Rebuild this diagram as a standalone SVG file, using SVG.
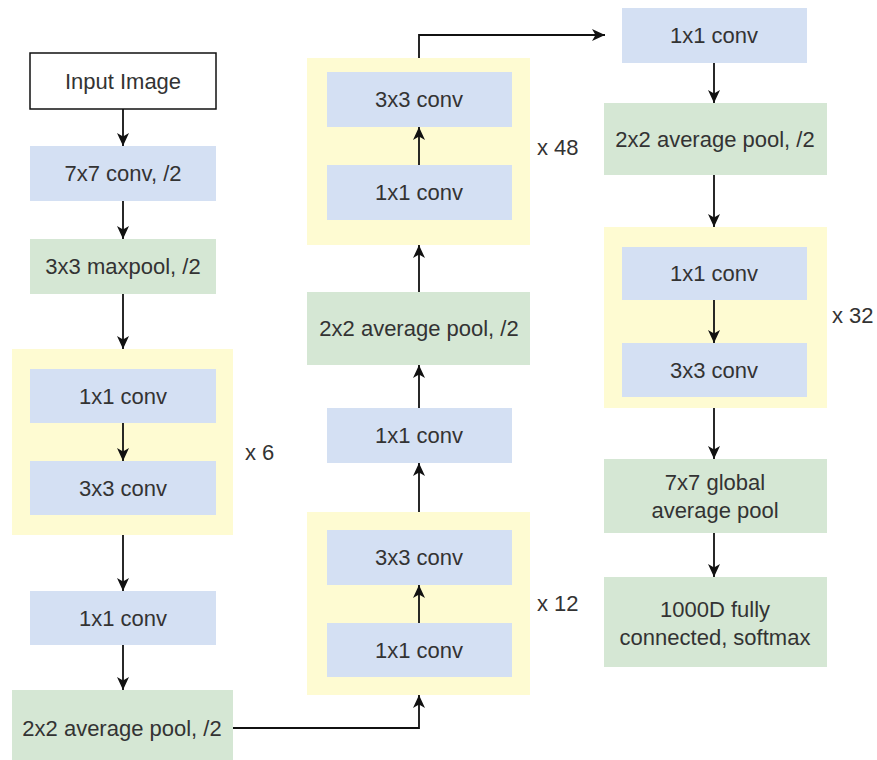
<svg xmlns="http://www.w3.org/2000/svg" width="877" height="760" viewBox="0 0 877 760">
  <defs>
    <marker id="arrow" viewBox="0 0 14 14" refX="13" refY="7" markerWidth="14" markerHeight="14" markerUnits="userSpaceOnUse" orient="auto">
      <path d="M0,1 L13,7 L0,13 L3.5,7 z" fill="#111"/>
    </marker>
  </defs>
  <style>
    .conv { fill: #d4e0f3; }
    .pool { fill: #d5e7d4; }
    .rep { fill: #fefbd2; }
    .inp { fill: #ffffff; stroke: #111; stroke-width: 1.5; }
    text { font-family: "Liberation Sans", Arial, sans-serif; font-size: 22px; fill: #333; text-anchor: middle; }
    .times { text-anchor: start; }
    .edge { fill: none; stroke: #111; stroke-width: 1.8; marker-end: url(#arrow); }
  </style>

  <!-- repeat containers (drawn first, behind their blocks) -->
  <g id="dense-block-6">
    <rect class="rep" x="12" y="349" width="221" height="186"/>
    <text class="times" x="245" y="460">x 6</text>
  </g>
  <g id="dense-block-48">
    <rect class="rep" x="307" y="58" width="223" height="187"/>
    <text class="times" x="537" y="155">x 48</text>
  </g>
  <g id="dense-block-12">
    <rect class="rep" x="307" y="512" width="223" height="183"/>
    <text class="times" x="537" y="611">x 12</text>
  </g>
  <g id="dense-block-32">
    <rect class="rep" x="604" y="227" width="223" height="181"/>
    <text class="times" x="832" y="323">x 32</text>
  </g>

  <!-- column 1 -->
  <g id="input-image">
    <rect class="inp" x="30" y="53" width="186" height="56"/>
    <text x="123" y="89">Input Image</text>
  </g>
  <g id="conv7x7">
    <rect class="conv" x="30" y="146" width="186" height="55"/>
    <text x="123" y="181">7x7 conv, /2</text>
  </g>
  <g id="maxpool">
    <rect class="pool" x="30" y="239" width="186" height="55"/>
    <text x="123" y="274">3x3 maxpool, /2</text>
  </g>
  <g id="b6-conv1x1">
    <rect class="conv" x="30" y="369" width="186" height="54"/>
    <text x="123" y="404">1x1 conv</text>
  </g>
  <g id="b6-conv3x3">
    <rect class="conv" x="30" y="461" width="186" height="54"/>
    <text x="123" y="496">3x3 conv</text>
  </g>
  <g id="t1-conv1x1">
    <rect class="conv" x="30" y="591" width="186" height="54"/>
    <text x="123" y="626">1x1 conv</text>
  </g>
  <g id="t1-avgpool">
    <rect class="pool" x="12" y="690" width="221" height="76"/>
    <text x="122" y="736">2x2 average pool, /2</text>
  </g>

  <!-- column 2 -->
  <g id="b12-conv1x1">
    <rect class="conv" x="327" y="623" width="185" height="54"/>
    <text x="419" y="658">1x1 conv</text>
  </g>
  <g id="b12-conv3x3">
    <rect class="conv" x="327" y="530" width="185" height="55"/>
    <text x="419" y="565">3x3 conv</text>
  </g>
  <g id="t2-conv1x1">
    <rect class="conv" x="327" y="408" width="185" height="55"/>
    <text x="419" y="443">1x1 conv</text>
  </g>
  <g id="t2-avgpool">
    <rect class="pool" x="307" y="292" width="223" height="73"/>
    <text x="419" y="336">2x2 average pool, /2</text>
  </g>
  <g id="b48-conv1x1">
    <rect class="conv" x="327" y="165" width="185" height="55"/>
    <text x="419" y="200">1x1 conv</text>
  </g>
  <g id="b48-conv3x3">
    <rect class="conv" x="327" y="72" width="185" height="55"/>
    <text x="419" y="107">3x3 conv</text>
  </g>

  <!-- column 3 -->
  <g id="t3-conv1x1">
    <rect class="conv" x="622" y="8" width="185" height="55"/>
    <text x="714" y="43">1x1 conv</text>
  </g>
  <g id="t3-avgpool">
    <rect class="pool" x="604" y="103" width="223" height="72"/>
    <text x="715" y="147">2x2 average pool, /2</text>
  </g>
  <g id="b32-conv1x1">
    <rect class="conv" x="622" y="247" width="185" height="53"/>
    <text x="714" y="281">1x1 conv</text>
  </g>
  <g id="b32-conv3x3">
    <rect class="conv" x="622" y="343" width="185" height="54"/>
    <text x="714" y="378">3x3 conv</text>
  </g>
  <g id="global-avgpool">
    <rect class="pool" x="604" y="459" width="223" height="74"/>
    <text x="715" y="490">7x7 global</text>
    <text x="715" y="518">average pool</text>
  </g>
  <g id="fc-softmax">
    <rect class="pool" x="604" y="577" width="223" height="90"/>
    <text x="715" y="617">1000D fully</text>
    <text x="715" y="645">connected, softmax</text>
  </g>

  <!-- connectors -->
  <g id="connectors">
    <path class="edge" d="M123,109 V146"/>
    <path class="edge" d="M123,201 V239"/>
    <path class="edge" d="M123,294 V349"/>
    <path class="edge" d="M123,423 V461"/>
    <path class="edge" d="M123,535 V591"/>
    <path class="edge" d="M123,645 V690"/>
    <path class="edge" d="M233,728 H419 V695"/>
    <path class="edge" d="M419,623 V585"/>
    <path class="edge" d="M419,512 V463"/>
    <path class="edge" d="M419,408 V365"/>
    <path class="edge" d="M419,292 V245"/>
    <path class="edge" d="M419,165 V127"/>
    <path class="edge" d="M419,58 V35 H605"/>
    <path class="edge" d="M714,63 V103"/>
    <path class="edge" d="M714,175 V227"/>
    <path class="edge" d="M714,300 V343"/>
    <path class="edge" d="M714,408 V459"/>
    <path class="edge" d="M714,533 V577"/>
  </g>
</svg>
